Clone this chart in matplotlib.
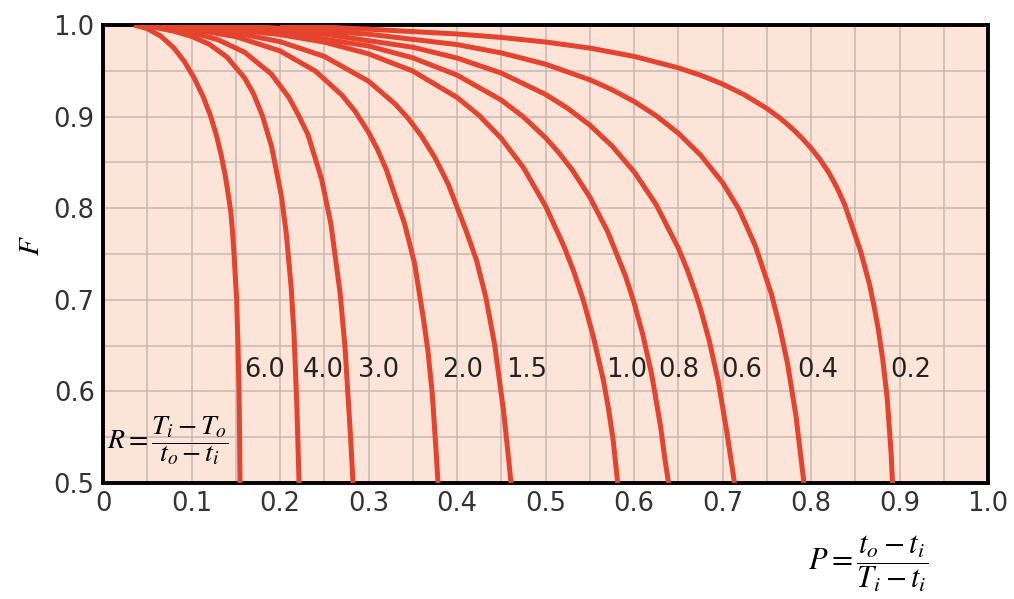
import matplotlib
matplotlib.use("Agg")
import matplotlib.pyplot as plt

# correction factor chart: each R curve as (P, F) pairs
r_labels = ["6.0", "4.0", "3.0", "2.0", "1.5", "1.0", "0.8", "0.6", "0.4", "0.2"]

p_r60 = [0.035, 0.05, 0.065, 0.08, 0.092, 0.103, 0.113, 0.121, 0.128, 0.1335, 0.138, 0.1415, 0.1445, 0.1465, 0.148, 0.151, 0.1525, 0.1537, 0.1543, 0.1548]
f_r60 = [1.0, 0.996, 0.988, 0.975, 0.96, 0.942, 0.922, 0.902, 0.88, 0.858, 0.836, 0.815, 0.795, 0.772, 0.75, 0.70, 0.65, 0.60, 0.55, 0.50]

p_r40 = [0.045, 0.08, 0.10, 0.12, 0.14, 0.16, 0.17, 0.18, 0.1905, 0.2015, 0.207, 0.2125, 0.2158, 0.219, 0.2215]
f_r40 = [1.0, 0.9932, 0.9876, 0.979, 0.965, 0.9421, 0.9249, 0.9012, 0.8671, 0.8135, 0.773, 0.7145, 0.663, 0.5843, 0.50]

p_r30 = [0.055, 0.07, 0.10, 0.13, 0.16, 0.19, 0.21, 0.22, 0.2315, 0.247, 0.2575, 0.268, 0.2735, 0.2795, 0.2825]
f_r30 = [1.0, 0.9965, 0.992, 0.9839, 0.9702, 0.9466, 0.9209, 0.9031, 0.8804, 0.8317, 0.7826, 0.7063, 0.6472, 0.5529, 0.50]

p_r20 = [0.065, 0.10, 0.15, 0.20, 0.24, 0.27, 0.285, 0.30, 0.31, 0.32, 0.341, 0.352, 0.3615, 0.367, 0.372, 0.3765, 0.3785]
f_r20 = [1.0, 0.9953, 0.9873, 0.9717, 0.9496, 0.9234, 0.9055, 0.8829, 0.8644, 0.8423, 0.7822, 0.7398, 0.6826, 0.6452, 0.5977, 0.5322, 0.50]

p_r15 = [0.075, 0.10, 0.15, 0.20, 0.25, 0.30, 0.33, 0.345, 0.36, 0.375, 0.39, 0.41, 0.422, 0.4325, 0.4425, 0.4525, 0.458, 0.461]
f_r15 = [1.0, 0.9967, 0.9914, 0.9818, 0.9657, 0.9386, 0.9138, 0.8978, 0.8785, 0.8552, 0.8264, 0.776, 0.7432, 0.7028, 0.651, 0.5791, 0.5287, 0.50]

p_r10 = [0.09, 0.15, 0.20, 0.25, 0.30, 0.35, 0.40, 0.425, 0.45, 0.475, 0.50, 0.521, 0.532, 0.543, 0.554, 0.5655, 0.571, 0.5765, 0.5815]
f_r10 = [1.0, 0.9948, 0.9895, 0.9813, 0.9685, 0.9497, 0.9209, 0.9012, 0.8762, 0.8443, 0.8023, 0.758, 0.7306, 0.6985, 0.6598, 0.6114, 0.5817, 0.5464, 0.50]

p_r08 = [0.10, 0.20, 0.30, 0.35, 0.40, 0.45, 0.475, 0.50, 0.515, 0.53, 0.55, 0.57, 0.59, 0.60, 0.61, 0.62, 0.63, 0.635, 0.639]
f_r08 = [1.0, 0.992, 0.9771, 0.9641, 0.9453, 0.918, 0.8996, 0.8769, 0.8606, 0.842, 0.8121, 0.7748, 0.7268, 0.697, 0.6616, 0.6181, 0.5616, 0.5251, 0.50]

p_r06 = [0.12, 0.15, 0.25, 0.35, 0.40, 0.45, 0.50, 0.525, 0.55, 0.575, 0.60, 0.625, 0.65, 0.66, 0.67, 0.675, 0.685, 0.695, 0.705, 0.7135]
f_r06 = [1.0, 0.9971, 0.990, 0.9757, 0.9639, 0.9475, 0.9242, 0.909, 0.8907, 0.868, 0.8398, 0.8039, 0.7565, 0.733, 0.7058, 0.6904, 0.6553, 0.6118, 0.5547, 0.50]

p_r04 = [0.15, 0.20, 0.30, 0.40, 0.45, 0.50, 0.55, 0.575, 0.60, 0.625, 0.65, 0.675, 0.70, 0.719, 0.737, 0.755, 0.764, 0.7735, 0.783, 0.792]
f_r04 = [1.0, 0.9963, 0.990, 0.9786, 0.9695, 0.9572, 0.9402, 0.9294, 0.9165, 0.9009, 0.8819, 0.8582, 0.828, 0.798, 0.759, 0.707, 0.673, 0.630, 0.573, 0.50]

p_r02 = [0.20, 0.30, 0.40, 0.45, 0.50, 0.55, 0.60, 0.65, 0.675, 0.70, 0.725, 0.75, 0.765, 0.78, 0.79, 0.80, 0.81, 0.82, 0.829, 0.838, 0.856, 0.866, 0.871, 0.876, 0.881, 0.886, 0.8905, 0.892]
f_r02 = [1.0, 0.9954, 0.9902, 0.9864, 0.9814, 0.9748, 0.9657, 0.9532, 0.9452, 0.9355, 0.9236, 0.9089, 0.8983, 0.8858, 0.8762, 0.8655, 0.8533, 0.839, 0.823, 0.804, 0.753, 0.717, 0.694, 0.668, 0.635, 0.593, 0.532, 0.50]

curves = [(p_r60, f_r60), (p_r40, f_r40), (p_r30, f_r30), (p_r20, f_r20), (p_r15, f_r15),
          (p_r10, f_r10), (p_r08, f_r08), (p_r06, f_r06), (p_r04, f_r04), (p_r02, f_r02)]

# R value labels: left edge P, common F
label_p = [0.160, 0.226, 0.288, 0.383, 0.456, 0.569, 0.627, 0.699, 0.784, 0.889]
label_f = 0.623

x_ticks = [0, 0.1, 0.2, 0.3, 0.4, 0.5, 0.6, 0.7, 0.8, 0.9, 1.0]
x_ticklabels = ["0", "0.1", "0.2", "0.3", "0.4", "0.5", "0.6", "0.7", "0.8", "0.9", "1.0"]
y_ticks = [0.5, 0.6, 0.7, 0.8, 0.9, 1.0]

plt.rcParams["font.family"] = ["DejaVu Sans"]
plt.rcParams["mathtext.fontset"] = "stix"

fig = plt.figure(figsize=(10.14, 5.99), dpi=100)
ax = fig.add_axes([0.1016, 0.1937, 0.8728, 0.7646])
ax.set_facecolor("#fde4d8")

for p_vals, f_vals in curves:
    ax.plot(p_vals, f_vals, color="#e6432e", lw=3.6, solid_capstyle="butt",
            solid_joinstyle="round", zorder=3)

for lab, lp in zip(r_labels, label_p):
    ax.text(lp, label_f, lab, fontsize=18.5, color="#222222", ha="left", va="center", zorder=4)

ax.set_xlim(0, 1.0)
ax.set_ylim(0.5, 1.0)
ax.set_xticks([i * 0.05 for i in range(21)], minor=True)
ax.set_yticks([0.5 + i * 0.05 for i in range(11)], minor=True)
ax.set_xticks(x_ticks)
ax.set_xticklabels(x_ticklabels)
ax.set_yticks(y_ticks)
ax.set_yticklabels([f"{v:.1f}" for v in y_ticks])
ax.grid(which="both", color="#c6b8b3", lw=1.1, zorder=1)
ax.set_axisbelow(True)
ax.tick_params(which="both", length=0, labelsize=18.5, colors="#333333", pad=6)
for s in ax.spines.values():
    s.set_linewidth(2.8)
    s.set_color("black")

ax.text(0.004, 0.546, r"$R=\dfrac{T_i-T_o}{t_o-t_i}$", fontsize=20,
        ha="left", va="center", zorder=4)
fig.text(0.856, 0.060, r"$P=\dfrac{t_o-t_i}{T_i-t_i}$", fontsize=22,
         ha="center", va="center")
fig.text(0.031, 0.59, r"$F$", fontsize=21, rotation=90, ha="center", va="center")

fig.savefig("out.png", dpi=100, facecolor="white")
